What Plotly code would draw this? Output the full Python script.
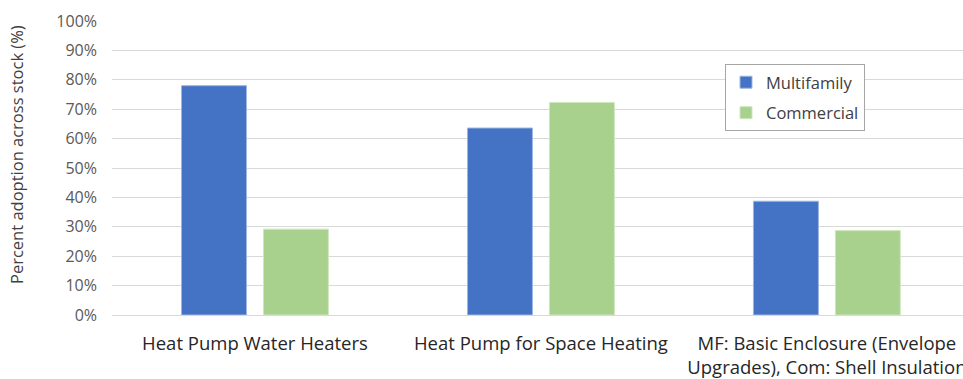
import plotly.graph_objects as go

categories = [
    "Heat Pump Water Heaters",
    "Heat Pump for Space Heating",
    "MF: Basic Enclosure (Envelope<br>Upgrades), Com: Shell Insulation",
]
multifamily = [0.78, 0.636, 0.387]
commercial = [0.292, 0.723, 0.287]
tick_vals = [i / 10 for i in range(11)]
tick_text = [f"{i * 10}%" for i in range(11)]
y_title = "Percent adoption across stock (%)"

font_family = "Open Sans, Noto Sans, sans-serif"
text_color = "#404040"

fig = go.Figure()
fig.add_trace(go.Bar(
    name="Multifamily", x=list(range(3)), y=multifamily, legendgroup="mf",
    marker=dict(color="#4472C4", line=dict(color="#9DB5E0", width=1)),
))
fig.add_trace(go.Bar(
    name="Commercial", x=list(range(3)), y=commercial, legendgroup="com",
    marker=dict(color="#A9D18E", line=dict(color="#CFE6C0", width=1)),
))

left, top, bottom = 112, 21, 64
plot_w = 963 - left
plot_h = 379 - top - bottom

fig.update_layout(
    width=963, height=379,
    margin=dict(l=left, r=0, t=top, b=bottom, autoexpand=False),
    paper_bgcolor="white", plot_bgcolor="white",
    barmode="group", bargap=0.427, bargroupgap=0.207,
    font=dict(family=font_family, size=16, color=text_color),
    showlegend=True,
    legend=dict(
        x=(725 - left) / plot_w, y=1 - (64 - top) / plot_h,
        xanchor="left", yanchor="top",
        bgcolor="white", bordercolor="#A6A6A6", borderwidth=1,
        font=dict(size=16.5, color="#404040"),
        itemwidth=30, tracegroupgap=6,
    ),
    xaxis=dict(
        range=[-0.5, 2.476],
        tickmode="array", tickvals=list(range(3)), ticktext=categories,
        showgrid=False, showline=False, zeroline=False, ticks="",
        tickfont=dict(size=18.5, color="#262626"),
        ticklabelstandoff=15,
        ticklabeloverflow="allow",
        automargin=False,
    ),
    yaxis=dict(
        range=[0, 1.0],
        tickmode="array", tickvals=tick_vals, ticktext=tick_text,
        showgrid=True, gridcolor="#D9D9D9", gridwidth=1,
        zeroline=True, zerolinecolor="#D9D9D9", zerolinewidth=1,
        showline=False, ticks="",
        tickfont=dict(size=16, color="#595959"),
        ticklabelstandoff=14,
        automargin=False,
    ),
)

# rotated axis title, placed a little above the plot's vertical centre
fig.add_annotation(
    text=y_title, textangle=-90, showarrow=False,
    xref="paper", yref="paper",
    x=(17 - left) / plot_w, y=(315 - 155) / plot_h,
    xanchor="center", yanchor="middle",
    font=dict(size=16.5, color="#404040"),
)

fig.write_html("out.html")
